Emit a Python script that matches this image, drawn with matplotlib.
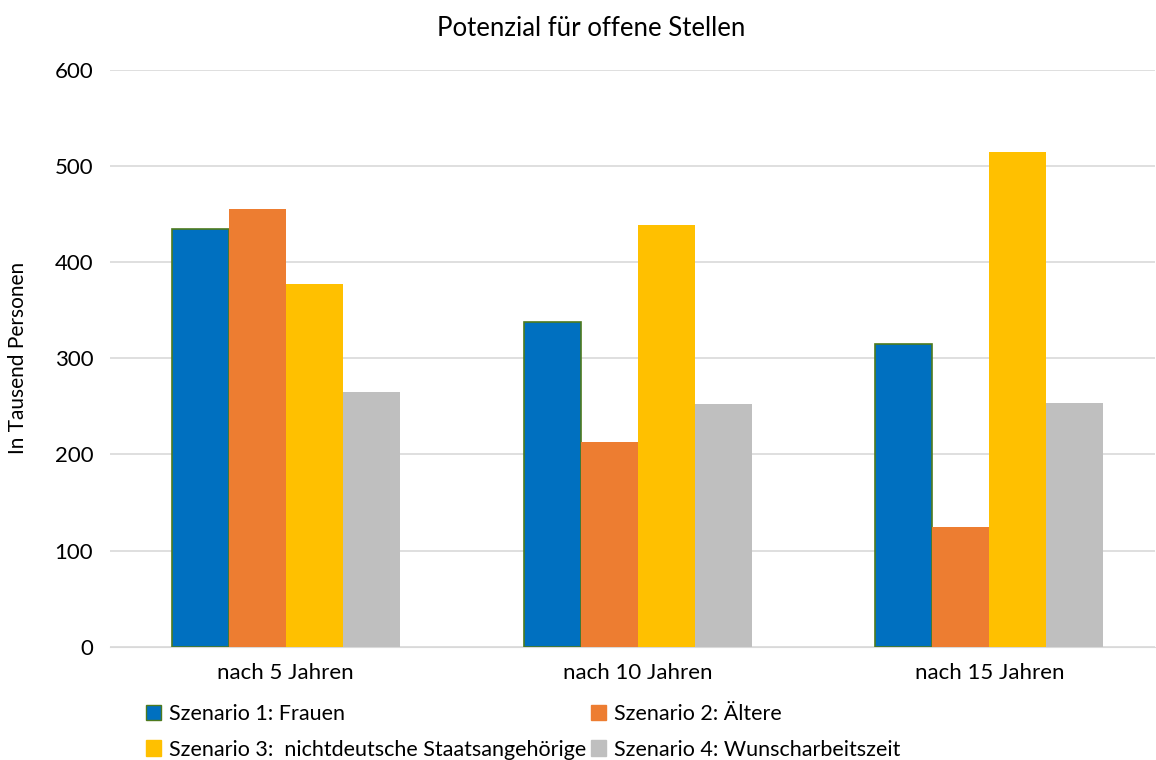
import numpy as np
import matplotlib.pyplot as plt
from matplotlib.patches import Patch

plt.rcParams['font.family'] = ['Lato', 'DejaVu Sans']

kategorien = ["nach 5 Jahren", "nach 10 Jahren", "nach 15 Jahren"]
szenarien = ["Szenario 1: Frauen", "Szenario 2: Ältere",
             "Szenario 3:  nichtdeutsche Staatsangehörige", "Szenario 4: Wunscharbeitszeit"]
frauen = [435, 338, 315]
aeltere = [455, 213, 125]
nichtdeutsche = [377, 439, 515]
wunsch = [265, 253, 254]

werte = [frauen, aeltere, nichtdeutsche, wunsch]
farben = ["#0070C0", "#ED7D31", "#FFC000", "#BFBFBF"]
kanten = ["#4E7A1E", "none", "none", "none"]

fig = plt.figure(figsize=(11.56, 7.6), dpi=100)
ax = fig.add_axes([0.095, 0.149, 0.904, 0.759])

x = np.arange(len(kategorien))
breite = 0.162
for i, (w, f, k) in enumerate(zip(werte, farben, kanten)):
    ax.bar(x + (i - 1.5) * breite, w, breite, color=f, edgecolor=k,
           linewidth=1.2 if k != "none" else 0, zorder=3)

ax.set_ylim(0, 600)
ax.set_xlim(-0.5, 2.47)
ax.set_yticks(range(0, 601, 100))
ax.set_xticks(x)
ax.set_xticklabels(kategorien)
ax.grid(axis='y', color='#D9D9D9', linewidth=1.2, zorder=0)
for s in ['top', 'right', 'left']:
    ax.spines[s].set_visible(False)
ax.spines['bottom'].set_color('#D9D9D9')
ax.tick_params(axis='both', length=0, labelsize=16, colors='black')
ax.tick_params(axis='x', pad=12)
ax.tick_params(axis='y', pad=12)
ax.set_ylabel("In Tausend Personen", fontsize=15)
ax.yaxis.set_label_coords(-0.078, 0.5)
fig.text(0.511, 0.963, "Potenzial für offene Stellen", fontsize=18.5, ha='center', va='center')

handles = [Patch(facecolor=f, edgecolor=(k if k != "none" else f)) for f, k in zip(farben, kanten)]
order = [0, 2, 1, 3]
fig.legend([handles[i] for i in order], [szenarien[i] for i in order],
           ncol=2, loc='upper left', bbox_to_anchor=(0.119, 0.085),
           frameon=False, fontsize=15.5, handlelength=0.7, handleheight=0.7,
           handletextpad=0.35, columnspacing=0.25, labelspacing=0.72, borderaxespad=0)

fig.savefig("out.png", dpi=100)
